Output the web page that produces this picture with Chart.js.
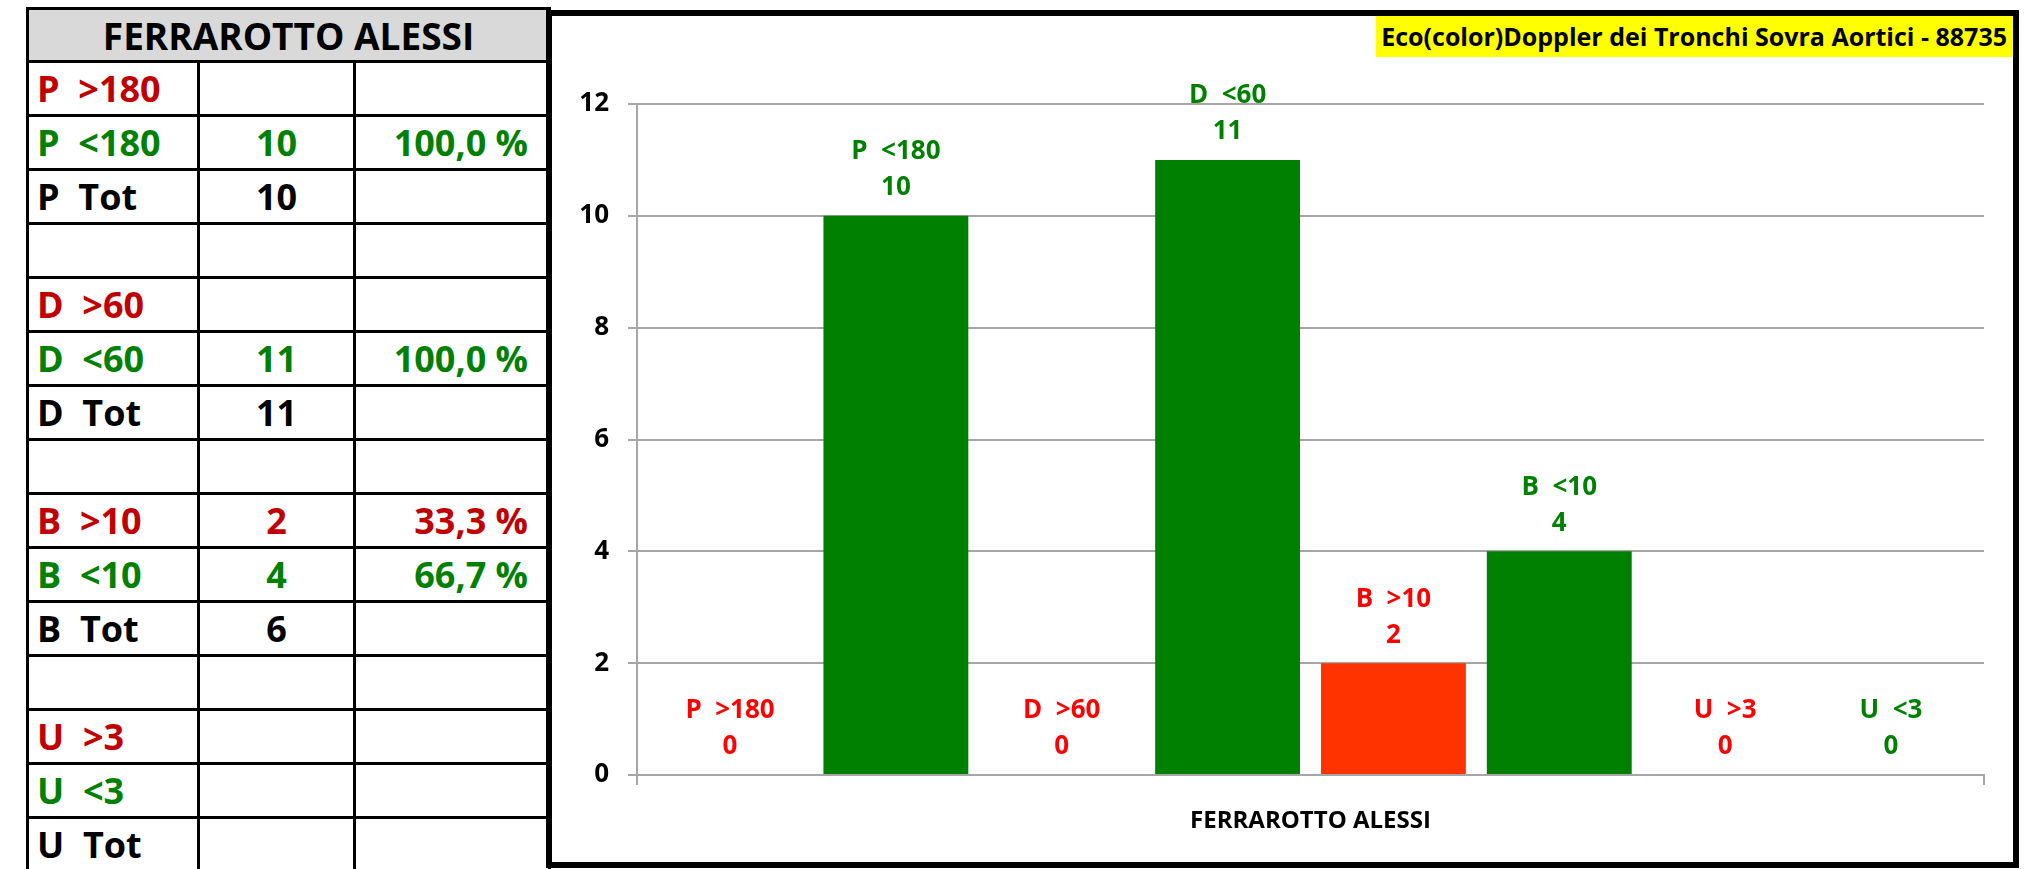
<!DOCTYPE html>
<html>
<head>
<meta charset="utf-8">
<script src="https://cdn.jsdelivr.net/npm/chart.js"></script>
<style>
  html, body { margin: 0; padding: 0; background: #fff; }
  body { width: 2029px; height: 869px; position: relative; overflow: hidden; font-family: 'Open Sans', sans-serif; }
  #summary { position: absolute; left: 26px; top: 7px; width: 522px; border-collapse: collapse; table-layout: fixed; font-weight: bold; font-size: 36px; }
  #summary th, #summary td { border: 3px solid #000; padding: 0 8px; white-space: pre; line-height: 1; }
  #summary th { background: #d9d9d9; height: 50px; text-align: center; font-size: 37px; }
  #summary td { height: 51px; }
  #summary td.n { text-align: center; }
  #summary td.p { text-align: right; padding-right: 20px; }
  #frame { position: absolute; left: 546px; top: 10px; width: 1473px; height: 858px; box-sizing: border-box; border: 6px solid #000; }
  #wrap { position: relative; width: 100%; height: 100%; }
  #title { position: absolute; right: 0; top: 0; height: 41px; line-height: 41px; padding: 0 6px 0 5px; background: #ffff00; font-weight: bold; font-size: 25px; color: #000; }
</style>
</head>
<body>
<table id="summary"><colgroup><col style="width:171px"><col style="width:156px"><col style="width:195px"></colgroup><tbody id="rows"></tbody></table>
<div id="frame"><div id="wrap"><canvas id="chart"></canvas><div id="title"></div></div></div>
<script>
// chart data
const patient = 'FERRAROTTO ALESSI';
const chartTitle = 'Eco(color)Doppler dei Tronchi Sovra Aortici - 88735';
const categories = ['P  >180', 'P  <180', 'D  >60', 'D  <60', 'B  >10', 'B  <10', 'U  >3', 'U  <3'];
const values = [0, 10, 0, 11, 2, 4, 0, 0];
const yTickMax = 12;
const yTickStep = 2;

// summary table
const tableLabels = ['P  >180', 'P  <180', 'P  Tot', '', 'D  >60', 'D  <60', 'D  Tot', '', 'B  >10', 'B  <10', 'B  Tot', '', 'U  >3', 'U  <3', 'U  Tot'];
const tableCounts = ['', '10', '10', '', '', '11', '11', '', '2', '4', '6', '', '', '', ''];
const tablePercents = ['', '100,0 %', '', '', '', '100,0 %', '', '', '33,3 %', '66,7 %', '', '', '', '', ''];

// colours
const barColors = ['#ff3300', '#008000', '#ff3300', '#008000', '#ff3300', '#008000', '#ff3300', '#008000'];
const labelColors = ['#ff0000', '#008000', '#ff0000', '#008000', '#ff0000', '#008000', '#ff0000', '#008000'];
const rowColors = ['#c00000', '#008000', '#000000', '#000000'];

const tbody = document.getElementById('rows');
let html = '<tr><th colspan="3">' + patient + '</th></tr>';
tableLabels.forEach(function (lab, i) {
  const c = rowColors[i % 4];
  html += '<tr style="color:' + c + '"><td>' + lab + '</td><td class="n">' + tableCounts[i] +
    '</td><td class="p">' + tablePercents[i] + '</td></tr>';
});
tbody.innerHTML = html;
document.getElementById('title').textContent = chartTitle;

const font = '"Open Sans", sans-serif';

const barLabels = {
  id: 'barLabels',
  afterDatasetsDraw(chart) {
    const ctx = chart.ctx;
    ctx.save();
    ctx.font = 'bold 26px ' + font;
    ctx.textAlign = 'center';
    ctx.textBaseline = 'middle';
    chart.data.datasets.forEach(function (ds, i) {
      const bar = chart.getDatasetMeta(i).data[0];
      ctx.fillStyle = labelColors[i];
      ctx.fillText(categories[i], bar.x, bar.y - 64);
      ctx.fillText(String(values[i]), bar.x, bar.y - 28);
    });
    ctx.restore();
  }
};

const datasets = categories.map(function (c, i) {
  return {
    label: c,
    data: [values[i]],
    backgroundColor: barColors[i],
    borderWidth: 0,
    categoryPercentage: 0.985,
    barPercentage: 0.8735
  };
});

new Chart(document.getElementById('chart'), {
  type: 'bar',
  data: { labels: [patient], datasets: datasets },
  options: {
    responsive: true,
    maintainAspectRatio: false,
    animation: false,
    layout: { padding: { top: 88, right: 29, left: 0, bottom: 0 } },
    plugins: { legend: { display: false }, tooltip: { enabled: false } },
    scales: {
      x: {
        afterFit: function (s) { s.height = 87; },
        ticks: { display: false },
        grid: { display: true, drawOnChartArea: false, drawTicks: true, tickLength: 10, color: '#a6a6a6', lineWidth: 2 },
        border: { display: true, color: '#a6a6a6', width: 2 },
        title: { display: true, text: patient, color: '#000', font: { family: font, size: 24, weight: 'bold' }, padding: { top: 0, bottom: 26 } }
      },
      y: {
        min: 0,
        max: yTickMax,
        afterFit: function (s) { s.width = 85; },
        ticks: { stepSize: yTickStep, color: '#000', padding: 19, font: { family: font, size: 26, weight: 'bold' } },
        grid: { color: '#a6a6a6', lineWidth: 2, tickLength: 9 },
        border: { display: true, color: '#a6a6a6', width: 2 }
      }
    }
  },
  plugins: [barLabels]
});
</script>
</body>
</html>
